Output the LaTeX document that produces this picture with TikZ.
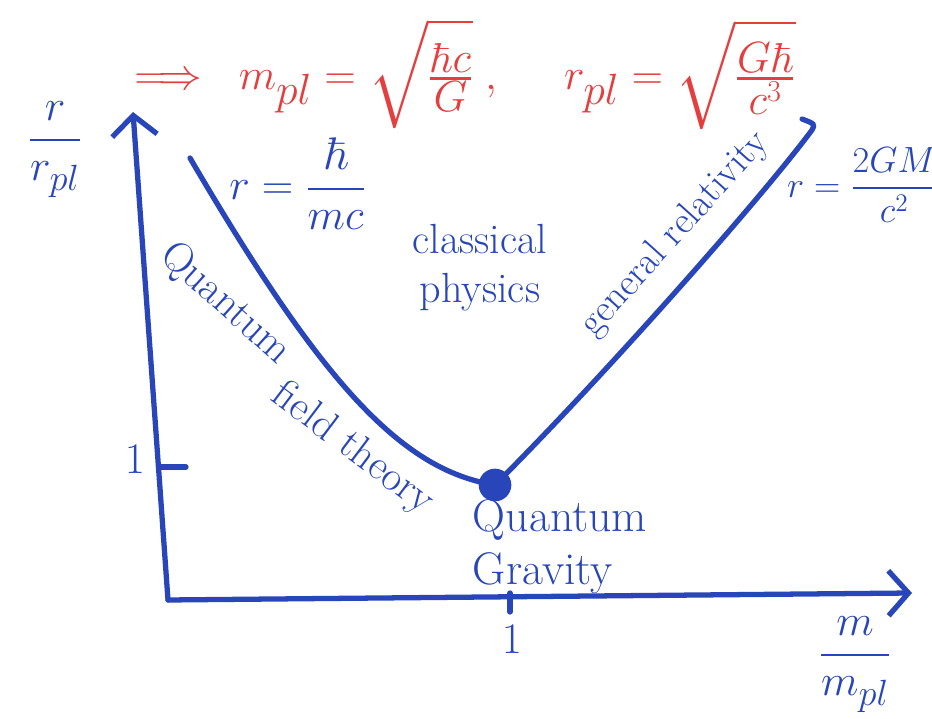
\documentclass[tikz,border=0pt]{standalone}
\usepackage{amsmath,amssymb}
\usepackage{tikz}
\usepackage{xcolor}
\usetikzlibrary{arrows.meta}
\definecolor{ink}{RGB}{40,70,185}
\definecolor{redink}{RGB}{228,62,62}

\begin{document}
\begin{tikzpicture}[line width=3pt,draw=ink,line cap=round,
  hand/.style={font=\fontsize{24}{28}\selectfont,text=ink},
  big/.style={font=\fontsize{28}{32}\selectfont,text=ink},
  barb/.style={-{Straight Barb[length=4mm,width=9mm,line width=3pt]}}]
\useasboundingbox (0,0) rectangle (18.64,14.38);
\coordinate (o) at (3.36,2.38);
\coordinate (ytop) at (2.66,12.14);
\coordinate (xend) at (18.24,2.52);
\draw[barb] (o) -- (ytop);
\draw[barb] (o) -- (xend);
\path (o) -- (ytop) coordinate[pos=0.2725] (ya);
\draw (ya) -- ++(0.55,0) coordinate (yb);
\node[hand] (one-y) at (2.7,5.2) {$1$};
\coordinate (xa) at (10.2,2.52);
\coordinate (xb) at (10.2,2.14);
\draw (xa) -- (xb);
\node[hand] (one-x) at (10.24,1.6) {$1$};
\node[big] (ylab) at (1.1,11.38) {$\dfrac{r}{r_{pl}}$};
\node[big] (xlab) at (17.1,1.08) {$\dfrac{m}{m_{pl}}$};
\coordinate (qstart) at (3.8,11.22);
\coordinate (gend) at (16.24,11.78);
\coordinate (ghook) at (16.04,12.0);
\node[circle,fill=ink,draw=ink,line width=1.5pt,minimum size=0.6cm,inner sep=0pt] (qg) at (9.9,4.68) {};
\draw (qstart) .. controls (6.4,6.78) and (8.0,4.98) .. (qg.center);
\draw (qg.center) .. controls (12.0,6.78) and (15.2,10.38) .. (gend) .. controls (16.3,11.9) .. (ghook);
\node[hand,font=\fontsize{26}{30}\selectfont] (rq) at (5.95,10.7) {$r=\dfrac{\hbar}{mc}$};
\node[hand,font=\fontsize{21}{25}\selectfont] (rg) at (17.25,10.68) {$r=\dfrac{2GM}{c^2}$};
\node[hand,align=center] (cp) at (9.6,9.02) {classical\\physics};
\node[hand,rotate=-42] (qft1) at (4.5,8.3) {Quantum};
\node[hand,rotate=-37] (qft2) at (7.05,5.4) {field theory};
\node[hand,font=\fontsize{22}{26}\selectfont,rotate=48] (gr) at (13.5,9.7) {general relativity};
\node[hand,font=\fontsize{26}{30}\selectfont,align=left] (qgl) at (11.2,3.45) {Quantum\\Gravity};
\node[font=\fontsize{34}{38}\selectfont,text=redink,inner sep=0pt] (planck) at (9.3,12.9)
  {$\Longrightarrow\;\; m_{pl}=\sqrt{\frac{\hbar c}{G}}\;,\quad r_{pl}=\sqrt{\frac{G\hbar}{c^3}}$};
\end{tikzpicture}
\end{document}
